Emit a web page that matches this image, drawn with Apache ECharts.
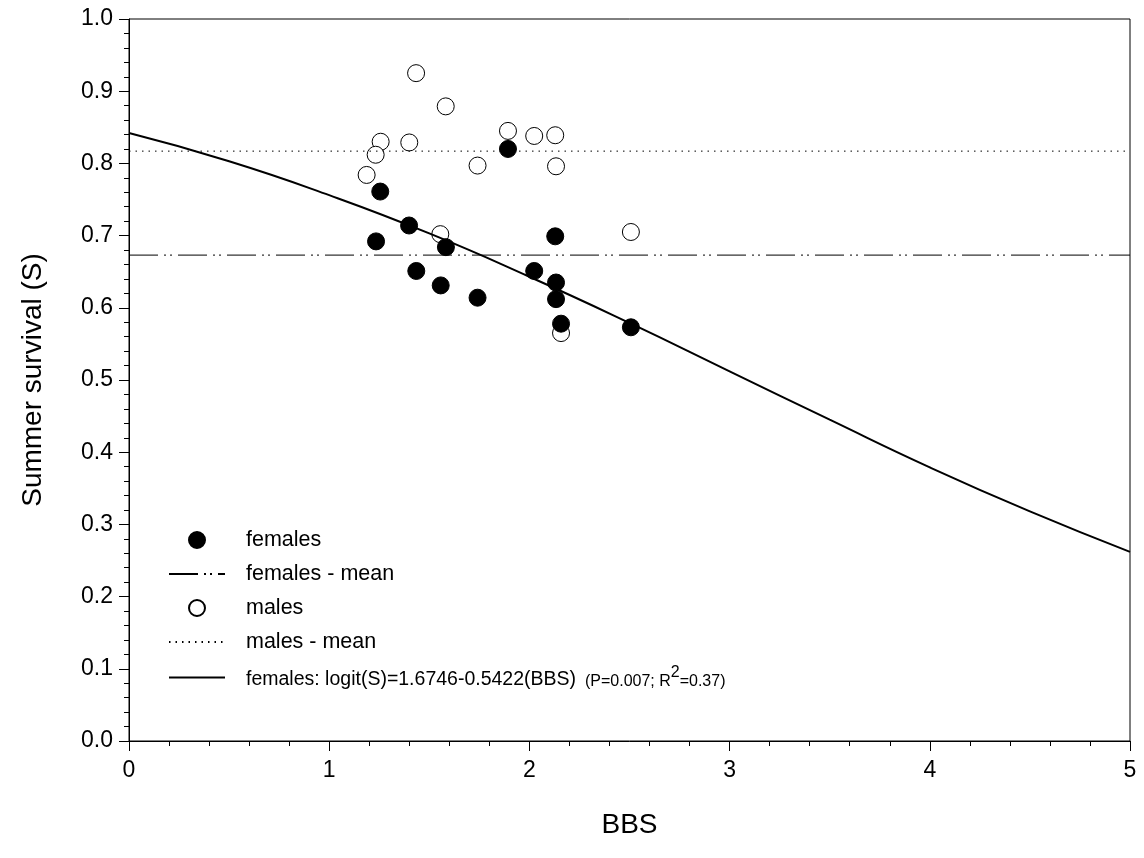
<!DOCTYPE html>
<html>
<head>
<meta charset="utf-8">
<script src="https://cdn.jsdelivr.net/npm/echarts@6/dist/echarts.min.js"></script>
<style>html,body{margin:0;padding:0;background:#fff}#c{width:1144px;height:858px}</style>
</head>
<body>
<div id="c"></div>
<script>
// BBS values and survival
const bbsFemales = [1.255, 1.399, 1.234, 1.583, 1.893, 2.129, 1.435, 1.557, 1.741, 2.024, 2.133, 2.133, 2.158, 2.507];
const survFemales = [0.761, 0.714, 0.692, 0.684, 0.820, 0.699, 0.651, 0.631, 0.614, 0.651, 0.635, 0.612, 0.578, 0.573];
const bbsMales = [1.434, 1.582, 1.257, 1.232, 1.187, 1.400, 1.893, 2.024, 2.129, 1.741, 2.133, 1.555, 2.507, 2.158];
const survMales = [0.925, 0.879, 0.830, 0.812, 0.784, 0.829, 0.845, 0.838, 0.839, 0.797, 0.796, 0.702, 0.705, 0.565];
const femalesMean = 0.673;
const malesMean = 0.817;
// fitted curve
const fitBBS = [0, 0.5, 1, 1.5, 2, 2.5, 3, 3.5, 4, 4.5, 5];
const fitS = [0.842, 0.803, 0.756, 0.703, 0.643, 0.579, 0.512, 0.445, 0.379, 0.318, 0.262];
const xRange = [0, 5];
const yRange = [0, 1];

const names = {
  f: 'females',
  fm: 'females - mean',
  m: 'males',
  mm: 'males - mean',
  fit: 'females: logit(S)=1.6746-0.5422(BBS)'
};

const zip = (a, b) => a.map((v, i) => [v, b[i]]);
const FONT = 'Liberation Sans, Arial, sans-serif';
const hiddenSym = {opacity: 0};

const chart = echarts.init(document.getElementById('c'), null, {renderer: 'canvas'});
chart.setOption({
  animation: false,
  backgroundColor: '#fff',
  grid: {left: 129, right: 14, top: 19, bottom: 117, show: true, borderColor: '#000', borderWidth: 1, backgroundColor: 'transparent'},
  xAxis: {
    type: 'value', min: xRange[0], max: xRange[1], interval: 1,
    name: 'BBS', nameLocation: 'middle', nameGap: 70,
    nameTextStyle: {fontFamily: FONT, fontSize: 28, color: '#000'},
    axisLine: {show: true, lineStyle: {color: '#000', width: 1}},
    axisTick: {show: true, length: 10, lineStyle: {color: '#000'}},
    minorTick: {show: true, splitNumber: 5, length: 5, lineStyle: {color: '#000'}},
    splitLine: {show: false},
    axisLabel: {fontFamily: FONT, fontSize: 23, color: '#000', margin: 18}
  },
  yAxis: {
    type: 'value', min: yRange[0], max: yRange[1], interval: 0.1,
    name: 'Summer survival (S)', nameLocation: 'middle', nameGap: 82,
    nameTextStyle: {fontFamily: FONT, fontSize: 28, color: '#000'},
    axisLine: {show: true, lineStyle: {color: '#000', width: 1}},
    axisTick: {show: true, length: 10, lineStyle: {color: '#000'}},
    minorTick: {show: true, splitNumber: 5, length: 5, lineStyle: {color: '#000'}},
    splitLine: {show: false},
    axisLabel: {fontFamily: FONT, fontSize: 23, color: '#000', margin: 16, formatter: v => v.toFixed(1)}
  },
  legend: {
    orient: 'vertical', left: 163, top: 524,
    itemWidth: 56, itemHeight: 16, itemGap: 12,
    data: [
      {name: names.f},
      {name: names.fm, itemStyle: hiddenSym},
      {name: names.m},
      {name: names.mm, itemStyle: hiddenSym},
      {name: names.fit, itemStyle: hiddenSym}
    ],
    textStyle: {fontFamily: FONT, fontSize: 21.5, color: '#000', padding: [0, 0, 0, 16],
      rich: {
        a: {fontFamily: FONT, fontSize: 19.5, color: '#000', verticalAlign: 'bottom'},
        s: {fontFamily: FONT, fontSize: 16, color: '#000', verticalAlign: 'bottom'},
        sup: {fontFamily: FONT, fontSize: 16, color: '#000', verticalAlign: 'bottom', padding: [0, 0, 9, 0]}
      }
    },
    formatter: function (n) {
      if (n === names.fit) {
        return '{a|' + n + '}{s|  (P=0.007; R}{sup|2}{s|=0.37)}';
      }
      return n;
    }
  },
  series: [
    {
      name: names.mm, type: 'line', symbol: 'none', silent: true,
      data: [[xRange[0], malesMean], [xRange[1], malesMean]],
      itemStyle: {color: '#000'},
      lineStyle: {color: '#000', width: 1, type: [1.5, 5]}
    },
    {
      name: names.fm, type: 'line', symbol: 'none', silent: true,
      data: [[xRange[0], femalesMean], [xRange[1], femalesMean]],
      itemStyle: {color: '#000'},
      lineStyle: {color: '#000', width: 1, type: [29, 6, 2, 4, 2, 6]}
    },
    {
      name: names.fit, type: 'line', symbol: 'none', smooth: true, silent: true,
      data: zip(fitBBS, fitS),
      itemStyle: {color: '#000'},
      lineStyle: {color: '#000', width: 2}
    },
    {
      name: names.m, type: 'scatter', symbol: 'circle', symbolSize: 17,
      data: zip(bbsMales, survMales),
      itemStyle: {color: '#fff', borderColor: '#000', borderWidth: 1, opacity: 1}
    },
    {
      name: names.f, type: 'scatter', symbol: 'circle', symbolSize: 17,
      data: zip(bbsFemales, survFemales),
      itemStyle: {color: '#000', borderColor: '#000', borderWidth: 1, opacity: 1}
    }
  ]
});
</script>
</body>
</html>
